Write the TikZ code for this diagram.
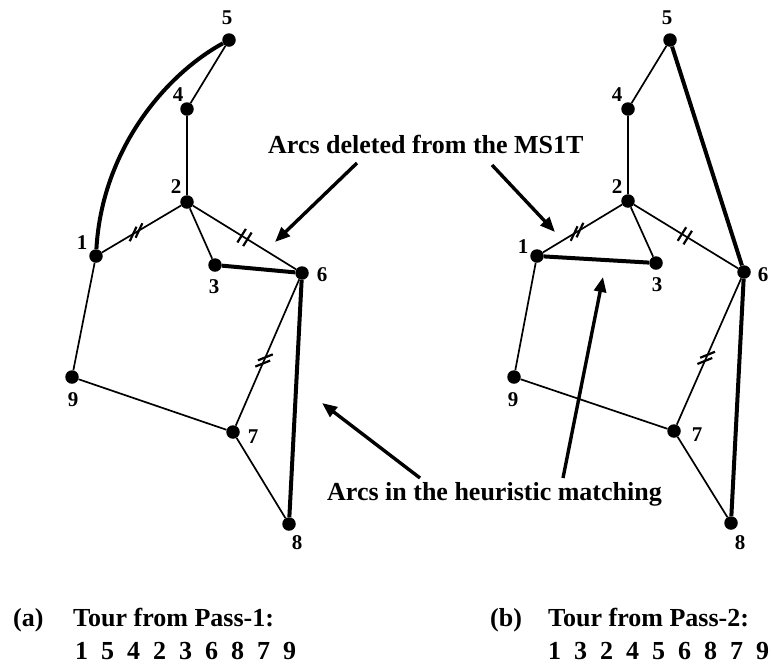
\documentclass[tikz,border=0pt]{standalone}
\usepackage{fontspec}
\setmainfont{Liberation Serif}
\usetikzlibrary{calc,arrows.meta}
\newcommand{\tourgap}{\hskip 13pt}
\newcommand{\hatch}[4]{%
  \path ($(#1)!#3!(#2)$) coordinate (hm);
  \draw[hatchline] ($(hm)!3.4pt!(#1)$) ++(#4:8pt) -- ++(#4+180:16pt);
  \draw[hatchline] ($(hm)!3.4pt!(#2)$) ++(#4:8pt) -- ++(#4+180:16pt);
}
\tikzset{
  dot/.style={circle,fill=black,inner sep=0pt,minimum size=13.5pt},
  lbl/.style={font=\fontsize{21}{24}\selectfont\bfseries,inner sep=0pt},
  txt/.style={font=\fontsize{26}{30}\selectfont\bfseries,inner sep=0pt,anchor=base west},
  plain/.style={line width=1.7pt},
  heavy/.style={line width=4pt},
  hatchline/.style={line width=2.2pt},
  pointer/.style={line width=3.4pt,-{Triangle[length=15pt,width=12pt]}}
}
\begin{document}
\begin{tikzpicture}[x=1pt,y=1pt]
\useasboundingbox (0,0) rectangle (771,-665);
% ---- left graph
\node[dot] (a1) at (96,-256) {};
\node[dot] (a2) at (187,-202) {};
\node[dot] (a3) at (215,-265) {};
\node[dot] (a4) at (187,-109) {};
\node[dot] (a5) at (229,-40) {};
\node[dot] (a6) at (302,-273) {};
\node[dot] (a7) at (233,-432) {};
\node[dot] (a8) at (289,-524) {};
\node[dot] (a9) at (72,-377) {};
\node[lbl] (la1) at (82,-243) {1};
\node[lbl] (la2) at (176,-187) {2};
\node[lbl] (la3) at (214,-287) {3};
\node[lbl] (la4) at (178,-95) {4};
\node[lbl] (la5) at (227,-18) {5};
\node[lbl] (la6) at (322,-275) {6};
\node[lbl] (la7) at (253,-437) {7};
\node[lbl] (la8) at (297,-543) {8};
\node[lbl] (la9) at (73,-400) {9};
\draw[plain] (a1)--(a2) (a2)--(a4) (a4)--(a5) (a2)--(a3) (a2)--(a6)
  (a6)--(a7) (a7)--(a8) (a7)--(a9) (a9)--(a1);
\draw[heavy] (a1) .. controls (102,-150) and (165,-75) .. (a5);
\draw[heavy] (a3)--(a6) (a6)--(a8);
\hatch{a1}{a2}{0.44}{65}
\hatch{a2}{a6}{0.50}{58}
\hatch{a6}{a7}{0.55}{22}
% ---- right graph
\node[dot] (b1) at (537,-256) {};
\node[dot] (b2) at (628,-201) {};
\node[dot] (b3) at (656,-263) {};
\node[dot] (b4) at (628,-109) {};
\node[dot] (b5) at (670,-40) {};
\node[dot] (b6) at (744,-272) {};
\node[dot] (b7) at (674,-431) {};
\node[dot] (b8) at (731,-523) {};
\node[dot] (b9) at (514,-377) {};
\node[lbl] (lb1) at (523,-247) {1};
\node[lbl] (lb2) at (617,-187) {2};
\node[lbl] (lb3) at (657,-285) {3};
\node[lbl] (lb4) at (617,-95) {4};
\node[lbl] (lb5) at (667,-18) {5};
\node[lbl] (lb6) at (763,-275) {6};
\node[lbl] (lb7) at (697,-435) {7};
\node[lbl] (lb8) at (740,-543) {8};
\node[lbl] (lb9) at (513,-400) {9};
\draw[plain] (b1)--(b2) (b2)--(b4) (b4)--(b5) (b2)--(b3) (b2)--(b6)
  (b6)--(b7) (b7)--(b8) (b7)--(b9) (b9)--(b1);
\draw[heavy] (b5)--(b6) (b1)--(b3) (b6)--(b8);
\hatch{b1}{b2}{0.44}{65}
\hatch{b2}{b6}{0.49}{58}
\hatch{b6}{b7}{0.54}{22}
% ---- annotations
\node[txt] (t1) at (268,-153) {Arcs deleted from the MS1T};
\node[txt] (t2) at (327,-500) {Arcs in the heuristic matching};
\coordinate (p1) at (357,-163); \coordinate (q1) at (275,-242);
\coordinate (p2) at (492,-165); \coordinate (q2) at (555,-232);
\coordinate (p3) at (420,-478); \coordinate (q3) at (322,-403);
\coordinate (p4) at (563,-478); \coordinate (q4) at (603,-277);
\draw[pointer] (p1) -- (q1);
\draw[pointer] (p2) -- (q2);
\draw[pointer] (p3) -- (q3);
\draw[pointer] (p4) -- (q4);
% ---- captions
\node[txt] (ca) at (13,-626) {(a)};
\node[txt] (ta) at (73,-626) {Tour from Pass-1:};
\node[txt] (na) at (75,-659) {1\tourgap5\tourgap4\tourgap2\tourgap3\tourgap6\tourgap8\tourgap7\tourgap9};
\node[txt] (cb) at (490,-626) {(b)};
\node[txt] (tb) at (548,-626) {Tour from Pass-2:};
\node[txt] (nb) at (548,-659) {1\tourgap3\tourgap2\tourgap4\tourgap5\tourgap6\tourgap8\tourgap7\tourgap9};
\end{tikzpicture}
\end{document}
